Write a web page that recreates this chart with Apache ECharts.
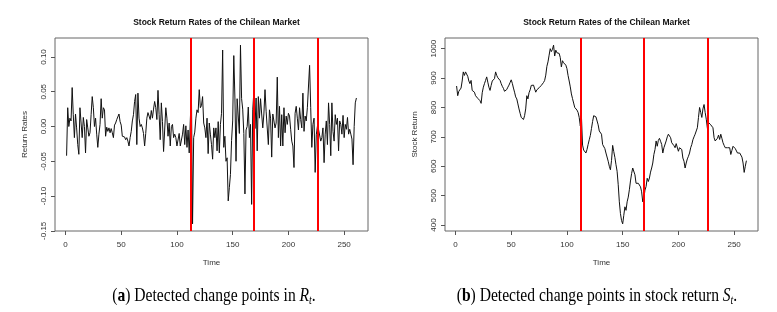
<!DOCTYPE html>
<html><head><meta charset="utf-8">
<script src="https://cdn.jsdelivr.net/npm/echarts@6/dist/echarts.min.js"></script>
<style>html,body{margin:0;padding:0;background:#fff}#c{width:777px;height:312px}</style>
</head><body><div id="c"></div>
<script>
// Return rates R_t, t = 1..261
const returnRates = [
 -0.042, 0.027, 0.000, 0.012, 0.008, 0.056, 0.017,-0.016, 0.018,-0.002,
 -0.026,-0.040, 0.027, 0.005,-0.016, 0.013, 0.000,-0.038, 0.010,-0.002,
 -0.014,-0.009, 0.017, 0.043, 0.027, 0.000, 0.012,-0.011,-0.030,-0.011,
  0.003, 0.040, 0.012, 0.027, 0.024,-0.014,-0.001,-0.007,-0.002,-0.009,
 -0.003,-0.009,-0.016, 0.002, 0.005, 0.010, 0.012, 0.018, 0.007, 0.002,
 -0.014,-0.016,-0.015,-0.019,-0.016,-0.021,-0.028,-0.016,-0.007, 0.008,
  0.017, 0.036, 0.046,-0.026, 0.048, 0.012, 0.000, 0.003,-0.002,-0.010,
 -0.028,-0.010, 0.012, 0.020, 0.015, 0.010, 0.023, 0.012, 0.025, 0.036,
  0.027, 0.010, 0.052, 0.017,-0.019, 0.034, 0.007,-0.036,-0.035, 0.027,
  0.012,-0.014, 0.005,-0.028, 0.000, 0.003,-0.016,-0.011,-0.016,-0.028,
 -0.028,-0.010,-0.028,-0.030,-0.011, 0.003,-0.026, 0.001,-0.030,-0.005,
 -0.038, 0.010, 0.048,-0.140,-0.016,-0.008, 0.012, 0.024, 0.020, 0.053,
  0.027, 0.030, 0.043, 0.005,-0.002,-0.016, 0.012,-0.039, 0.005,-0.011,
 -0.026,-0.047,-0.002,-0.016,-0.002,-0.035, 0.007,-0.038, 0.003, 0.019,
  0.110,-0.030,-0.014,-0.050,-0.045,-0.107,-0.088,-0.069,-0.020, 0.008,
  0.102, 0.041,-0.050, 0.040, 0.042,-0.010, 0.117, 0.040, 0.025,-0.010,
 -0.097,-0.005, 0.000, 0.028,-0.016, 0.003,-0.112, 0.024, 0.050,-0.003,
  0.041,-0.035, 0.043, 0.012, 0.040, 0.018,-0.002, 0.018, 0.053, 0.022,
  0.022,-0.026, 0.024, 0.012,-0.044, 0.018, 0.020,-0.002, 0.005, 0.071,
 -0.016, 0.029,-0.028, 0.017,-0.028, 0.027,-0.009, 0.015, 0.003, 0.019,
  0.015,-0.004,-0.021,-0.028,-0.059, 0.019, 0.029, 0.012,-0.005, 0.027,
  0.010,-0.002, 0.048,-0.007, 0.015, 0.008, 0.027, 0.025, 0.088, 0.027,
 -0.030, 0.003, 0.012,-0.066,-0.012, 0.000,-0.004,-0.002,-0.021,-0.016,
 -0.002,-0.052,-0.011, 0.008,-0.026, 0.034, 0.003,-0.042, 0.034,-0.007,
 -0.021, 0.017, 0.003, 0.012,-0.035, 0.008, 0.003,-0.011, 0.016,-0.016,
  0.003,-0.004, 0.013,-0.011,-0.004,-0.011,-0.018,-0.055, 0.000, 0.034,
  0.041
];
// Stock return S_t, t = 1..261
const stockReturn = [
 873, 840, 855, 860, 866, 890, 921, 909, 921, 915,
 906, 890, 881, 892, 858, 863, 852, 840, 835, 831,
 828, 823, 814, 850, 869, 881, 892, 904, 886, 869,
 858, 875, 890, 894, 898, 921, 909, 901, 896, 892,
 881, 872, 865, 855, 858, 861, 869, 876, 885, 894,
 882, 866, 852, 836, 829, 812, 795, 780, 766, 761,
 759, 772, 795, 840, 829, 850, 860, 875, 877, 876,
 875, 852, 860, 863, 867, 872, 875, 870, 885, 892,
 910, 940, 955, 978,1000, 990, 998,1012, 975, 995,
 986, 988, 984, 970, 938, 959, 952, 948, 944, 932,
 909, 890, 870, 846, 830, 815, 800, 795, 791, 783,
 766, 737, 770, 672, 655, 650, 645, 657, 674, 690,
 705, 728, 752, 772, 775, 768, 772, 741, 720, 714,
 709, 674, 670, 660, 645, 640, 617, 600, 588, 620,
 671, 650, 630, 605, 583, 537, 479, 439, 415, 404,
 433, 462, 450, 479, 495, 520, 550, 575, 594, 600,
 571, 542, 537, 542, 540, 530, 513, 479, 491, 519,
 531, 559, 548, 560, 580, 594, 611, 640, 657, 686,
 668, 688, 695, 685, 674, 645, 663, 668, 686, 700,
 709, 714, 697, 680, 686, 670, 663, 677, 674, 651,
 663, 660, 657, 628, 617, 594, 611, 625, 634, 645,
 663, 674, 690, 700, 709, 720, 731, 766, 800, 783,
 766, 795, 810, 783, 760, 729, 749, 745, 741, 741,
 731, 697, 686, 680, 695, 706, 691, 709, 695, 680,
 671, 663, 668, 663, 659, 663, 640, 654, 668, 665,
 660, 657, 645, 651, 645, 640, 631, 611, 579, 600,
 619
];
const changePoints = [112, 169, 226];
const timeTicks = [0, 50, 100, 150, 200, 250];
const rateTicks = [-0.15, -0.10, -0.05, 0.00, 0.05, 0.10];
const stockTicks = [400, 500, 600, 700, 800, 900, 1000];
const panelTitle = 'Stock Return Rates of the Chilean Market';
const xName = 'Time';
const yNames = ['Return Rates', 'Stock Return'];

const FONT = 'Liberation Sans, Arial, Helvetica, sans-serif';
const SERIF = 'Liberation Serif, Times New Roman, serif';

// R-style 4% range extension
function ext(arr) {
  const lo = Math.min(...arr), hi = Math.max(...arr), d = (hi - lo) * 0.04;
  return [lo - d, hi + d];
}
const xr = ext([1, returnRates.length]);
const yr1 = ext(returnRates);
const yr2 = ext(stockReturn);

function xAxisCfg(gi) {
  return {
    type: 'value', gridIndex: gi, min: xr[0], max: xr[1], position: 'bottom',
    axisLine: { show: false, onZero: false },
    axisTick: { show: true, length: 4, customValues: timeTicks, lineStyle: { color: '#555', width: 1 } },
    axisLabel: { customValues: timeTicks, fontSize: 8, color: '#333', margin: 10, fontFamily: FONT },
    splitLine: { show: false },
    name: xName, nameLocation: 'middle', nameGap: 28,
    nameTextStyle: { fontSize: 8, color: '#333', fontFamily: FONT }
  };
}
function yAxisCfg(gi, r, ticks, fmt, name) {
  return {
    type: 'value', gridIndex: gi, min: r[0], max: r[1], position: 'left',
    axisLine: { show: false, onZero: false },
    axisTick: { show: true, length: 4, customValues: ticks, lineStyle: { color: '#555', width: 1 } },
    axisLabel: { customValues: ticks, fontSize: 8, color: '#333', margin: 7, rotate: 90, fontFamily: FONT, formatter: fmt },
    splitLine: { show: false },
    name: name, nameLocation: 'middle', nameGap: 26, nameRotate: 90,
    nameTextStyle: { fontSize: 8, color: '#333', fontFamily: FONT }
  };
}
function vlines() {
  return {
    silent: true, symbol: ['none', 'none'], label: { show: false },
    lineStyle: { color: '#ff0000', width: 2, type: 'solid', opacity: 1 },
    emphasis: { disabled: true },
    data: changePoints.map(x => ({ xAxis: x }))
  };
}

const chart = echarts.init(document.getElementById('c'), null, { renderer: 'canvas' });
chart.setOption({
  animation: false,
  backgroundColor: '#fff',
  title: [
    { text: panelTitle, left: 211.5, top: 13, textAlign: 'center',
      textStyle: { fontSize: 8.5, fontWeight: 'bold', color: '#111', fontFamily: FONT } },
    { text: panelTitle, left: 601.5, top: 13, textAlign: 'center',
      textStyle: { fontSize: 8.5, fontWeight: 'bold', color: '#111', fontFamily: FONT } }
  ],
  grid: [
    { left: 55, top: 38, width: 313, height: 193, show: true, borderColor: '#666', borderWidth: 1, backgroundColor: 'transparent' },
    { left: 445, top: 38, width: 313, height: 193, show: true, borderColor: '#666', borderWidth: 1, backgroundColor: 'transparent' }
  ],
  xAxis: [xAxisCfg(0), xAxisCfg(1)],
  yAxis: [
    yAxisCfg(0, yr1, rateTicks, v => v.toFixed(2), yNames[0]),
    yAxisCfg(1, yr2, stockTicks, v => String(v), yNames[1])
  ],
  series: [
    { type: 'line', xAxisIndex: 0, yAxisIndex: 0, showSymbol: false, silent: true,
      lineStyle: { color: '#111', width: 1 },
      data: returnRates.map((v, i) => [i + 1, v]), markLine: vlines() },
    { type: 'line', xAxisIndex: 1, yAxisIndex: 1, showSymbol: false, silent: true,
      lineStyle: { color: '#111', width: 1 },
      data: stockReturn.map((v, i) => [i + 1, v]), markLine: vlines() }
  ],
  graphic: [
    { type: 'text', x: 214, y: 296, scaleX: 0.82, silent: true,
      style: {
        text: '({b|a}) Detected change points in {i|R}{s|t}.',
        fontSize: 19, fontFamily: SERIF, fill: '#000',
        textAlign: 'center', textVerticalAlign: 'middle', align: 'center', verticalAlign: 'middle',
        rich: {
          b: { fontSize: 19, fontFamily: SERIF, fontWeight: 'bold', fill: '#000' },
          i: { fontSize: 19, fontFamily: SERIF, fontStyle: 'italic', fill: '#000' },
          s: { fontSize: 12, fontFamily: SERIF, fontStyle: 'italic', fill: '#000', padding: [10, 0, 0, 0] }
        }
      } },
    { type: 'text', x: 597, y: 296, scaleX: 0.82, silent: true,
      style: {
        text: '({b|b}) Detected change points in stock return {i|S}{s|t}.',
        fontSize: 19, fontFamily: SERIF, fill: '#000',
        textAlign: 'center', textVerticalAlign: 'middle', align: 'center', verticalAlign: 'middle',
        rich: {
          b: { fontSize: 19, fontFamily: SERIF, fontWeight: 'bold', fill: '#000' },
          i: { fontSize: 19, fontFamily: SERIF, fontStyle: 'italic', fill: '#000' },
          s: { fontSize: 12, fontFamily: SERIF, fontStyle: 'italic', fill: '#000', padding: [10, 0, 0, 0] }
        }
      } }
  ]
});
</script>
</body></html>
